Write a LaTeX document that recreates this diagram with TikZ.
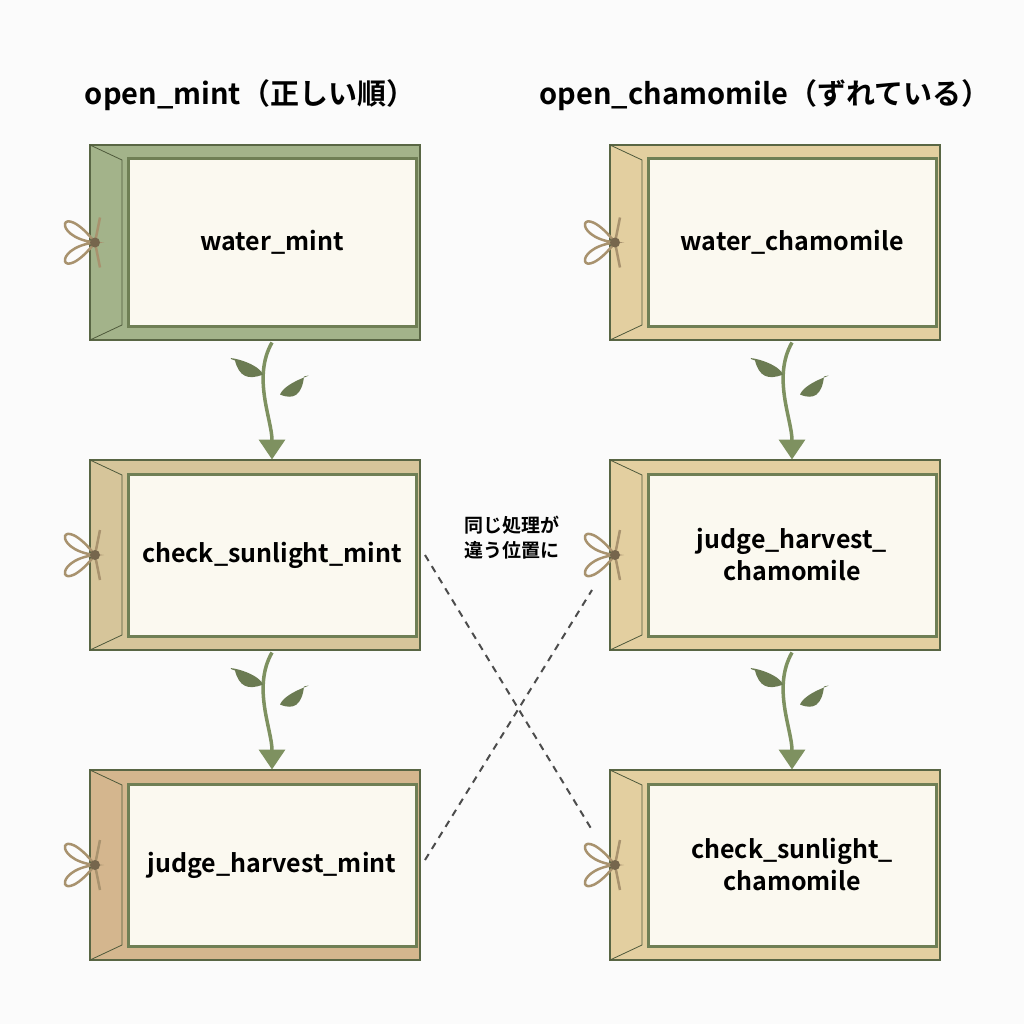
\documentclass[tikz,border=0pt]{standalone}
\usepackage{fontspec}
\setmainfont{Noto Sans CJK JP}[BoldFont={* Bold}]
\usetikzlibrary{arrows.meta}
\definecolor{frame}{HTML}{6F7F55}
\definecolor{vine}{HTML}{7E9160}
\definecolor{cord}{HTML}{A8926E}
\definecolor{cgreen}{HTML}{A3B38A}
\definecolor{colive}{HTML}{D6C59A}
\definecolor{ctan}{HTML}{D4B68E}
\definecolor{cyel}{HTML}{E3CFA0}
\definecolor{panel}{HTML}{FBF9F0}
\begin{document}
\begin{tikzpicture}[x=1pt,y=-1pt,
  outer/.style={draw=frame!80!black,line width=1.2pt},
  inner/.style={draw=frame,line width=3pt,fill=panel},
  lbl/.style={font=\bfseries\fontsize{25}{32}\selectfont,align=center,text=black},
  vinearrow/.style={draw=vine,line width=3.5pt,-{Triangle[length=20pt,width=26pt]}},
  leaf/.style={fill=vine!85!black,draw=none},
  dashedc/.style={draw=black!70,line width=2pt,dash pattern=on 7pt off 6pt}]
\useasboundingbox (0,0) rectangle (1024,1024);
\fill[white!97!gray] (0,0) rectangle (1024,1024);
\node[font=\bfseries\fontsize{29}{34}\selectfont] (t1) at (250,95) {open\_mint（正しい順）};
\node[font=\bfseries\fontsize{29}{34}\selectfont] (t2) at (765,95) {open\_chamomile（ずれている）};
\newcommand\envbox[6]{% name, x, y, color, text, h
  \fill[#4,outer] (#2,#3) rectangle ++(330,#6);
  \draw[frame!70!black,line width=0.8pt] (#2,#3) -- (#2+32,#3+15) -- (#2+32,#3+#6-15) -- (#2,#3+#6);
  \node[inner,minimum width=288,minimum height={#6-28},inner sep=0pt] (#1) at (#2+182,#3+#6/2) {};
  \node[lbl] at (#1) {#5};
  \draw[cord,line width=2.5pt] (#2+5,#3+#6/2) .. controls (#2-30,#3+#6/2-45) and (#2-40,#3+#6/2-5) .. (#2+5,#3+#6/2)
    .. controls (#2-40,#3+#6/2+5) and (#2-30,#3+#6/2+45) .. (#2+5,#3+#6/2);
  \draw[cord,line width=2.5pt] (#2+5,#3+#6/2) -- (#2+10,#3+#6/2-25) (#2+5,#3+#6/2) -- (#2+10,#3+#6/2+25);
  \fill[cord!70!black] (#2+5,#3+#6/2) circle (5);
}
\envbox{a1}{90}{145}{cgreen}{water\_mint}{195}
\envbox{a2}{90}{460}{colive}{check\_sunlight\_mint}{190}
\envbox{a3}{90}{770}{ctan}{judge\_harvest\_mint}{190}
\envbox{b1}{610}{145}{cyel}{water\_chamomile}{195}
\envbox{b2}{610}{460}{cyel}{judge\_harvest\_\\chamomile}{190}
\envbox{b3}{610}{770}{cyel}{check\_sunlight\_\\chamomile}{190}
\foreach \u/\v in {a1/a2,a2/a3,b1/b2,b2/b3}{
  \draw[vinearrow] ([yshift=-15pt]\u.south) .. controls +(-20,35) and +(0,-40) .. ([yshift=13pt]\v.north);
  \path ([yshift=-15pt]\u.south) ++(-9,32) coordinate (l1) ++(17,20) coordinate (l2);
  \fill[leaf] (l1) .. controls +(-6,-14) and +(-18,-6) .. ++(-28,-14) .. controls +(4,16) and +(-15,6) .. (l1);
  \fill[leaf] (l2) .. controls +(6,-14) and +(18,-4) .. ++(24,-18) .. controls +(-2,18) and +(14,6) .. (l2);
}
\coordinate (d1) at (425,555);
\coordinate (d2) at (592,830);
\coordinate (d3) at (425,860);
\coordinate (d4) at (592,590);
\draw[dashedc] (d1) -- (d2);
\draw[dashedc] (d3) -- (d4);
\node[font=\bfseries\fontsize{19}{25}\selectfont,align=center,fill=white!97!gray,inner sep=1pt] (c) at (512,538) {同じ処理が\\違う位置に};
\end{tikzpicture}
\end{document}
